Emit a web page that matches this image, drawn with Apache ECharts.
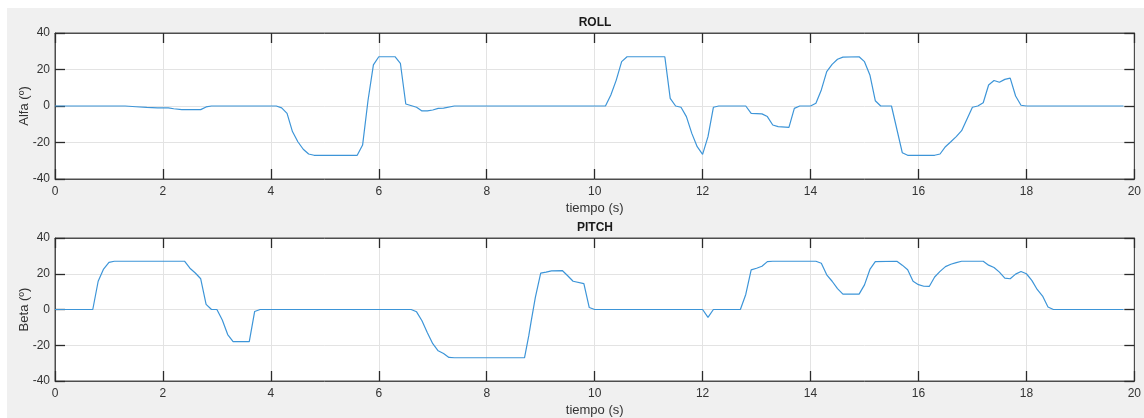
<!DOCTYPE html>
<html>
<head>
<meta charset="utf-8">
<script src="https://cdn.jsdelivr.net/npm/echarts@6/dist/echarts.min.js"></script>
<style>
html,body{margin:0;padding:0;background:#ffffff;}
#bg{position:absolute;left:7px;top:8px;width:1137px;height:410px;background:#f0f0f0;}
#chart{position:absolute;left:0;top:0;width:1144px;height:418px;}
</style>
</head>
<body>
<div id="bg"></div>
<div id="chart"></div>
<script>
// ROLL (Alfa) — time (s) and angle (º)
const rollT = [0,1.3,1.5,1.7,1.9,2.1,2.2,2.35,2.7,2.8,2.9,4.1,4.2,4.3,4.4,4.5,4.6,4.7,4.8,5.6,5.7,5.8,5.9,6.0,6.3,6.4,6.5,6.7,6.8,6.9,7.0,7.1,7.2,7.4,10.2,10.3,10.4,10.5,10.6,11.3,11.4,11.5,11.6,11.7,11.8,11.9,12.0,12.1,12.2,12.3,12.8,12.9,13.1,13.2,13.3,13.4,13.6,13.7,13.8,14.0,14.1,14.2,14.3,14.4,14.5,14.6,14.9,15.0,15.1,15.2,15.3,15.5,15.7,15.8,16.3,16.4,16.5,16.6,16.7,16.8,16.9,17.0,17.1,17.2,17.3,17.4,17.5,17.6,17.7,17.8,17.9,18.0,19.8];
const rollV = [0,0,-0.4,-0.8,-1,-1,-1.5,-2,-2,-0.5,0,0,-1,-4,-14,-19.6,-23.7,-26.3,-27,-27,-21.4,3,22.5,27,27,23.4,1.1,-0.7,-2.7,-2.7,-2.2,-1.3,-1.2,0,0,6,14.2,24.3,27,27,4.2,0,-0.7,-5.8,-15,-22.3,-26.5,-16.8,-0.7,0,0,-4,-4.3,-5.8,-10.4,-11.3,-11.7,-1.3,0,0,1.5,8.8,18.8,22.8,25.6,26.8,27,24.3,17,2.9,0,0,-25.6,-27,-27,-26.3,-22.3,-19.6,-16.8,-13.5,-7.1,-0.7,0,1.8,11.5,14,13,14.6,15.3,5.5,0.4,0,0];

// PITCH (Beta) — time (s) and angle (º)
const pitchT = [0,0.7,0.8,0.9,1.0,1.1,2.4,2.5,2.6,2.7,2.8,2.9,3.0,3.1,3.2,3.3,3.6,3.7,3.8,6.6,6.7,6.8,6.9,7.0,7.1,7.2,7.3,7.4,8.7,8.78,8.82,8.9,9.0,9.1,9.2,9.4,9.5,9.6,9.8,9.9,10.0,12.0,12.1,12.2,12.7,12.8,12.9,13.0,13.1,13.2,13.3,14.1,14.2,14.3,14.4,14.5,14.6,14.9,15.0,15.1,15.2,15.6,15.7,15.8,15.9,16.0,16.1,16.2,16.3,16.4,16.5,16.6,16.7,16.8,17.2,17.3,17.4,17.5,17.6,17.7,17.8,17.9,18.0,18.1,18.2,18.3,18.4,18.5,19.8];
const pitchV = [0,0,15.8,22.6,26.4,27,27,23.1,20.4,17.2,2.9,0,0,-5.9,-14,-18,-18,-1.1,0,0,-1.3,-6.3,-13,-19.1,-23.1,-24.6,-26.8,-27,-27,-14.5,-7.2,6.6,20.4,20.9,21.6,21.8,18.9,15.8,14.5,1.1,0,0,-4.4,0,0,8.4,22.2,23.1,24.2,26.8,27,27,25.9,19.4,15.8,11.7,8.6,8.6,13.8,22.4,26.8,27,24.8,22.2,15.8,13.9,13,12.9,18.2,21.3,24,25.3,26.2,27,27,24.8,23.5,20.9,17.6,17.2,19.8,21.3,20,16.3,11.2,7.5,1.4,0,0];

const xTicks = [0,2,4,6,8,10,12,14,16,18,20];
const yTicks = [-40,-20,0,20,40];
const titles = ['ROLL','PITCH'];
const yNames = ['Alfa (º)','Beta (º)'];
const xName = 'tiempo (s)';

const FONT = '"Liberation Sans", Arial, Helvetica, sans-serif';
const TXT = '#333333';
const AX = '#4d4d4d';
const TICK = '#2b2b2b';
const GRIDC = '#e3e3e3';
const LINE = '#3d95d8';

const grids = [
  {left:55, top:33, width:1080, height:146},
  {left:55, top:238, width:1080, height:145}
];
const titlePos = [[595, 23], [595, 228]];

function pairs(t, v){ return t.map((x,i)=>[x, v[i]]); }
function tick(){ return {show:true, inside:true, length:10, lineStyle:{color:TICK, width:1.3}}; }

const xAxis = [], yAxis = [];
grids.forEach((g, i) => {
  xAxis.push({
    type:'value', gridIndex:i, position:'bottom', z:10,
    min:xTicks[0], max:xTicks[xTicks.length-1], interval:xTicks[1]-xTicks[0],
    name:xName, nameLocation:'middle', nameGap:23,
    nameTextStyle:{color:TXT, fontFamily:FONT, fontSize:13},
    axisLine:{show:true, onZero:false, lineStyle:{color:AX}},
    axisTick:tick(),
    axisLabel:{color:TXT, fontFamily:FONT, fontSize:12, margin:7},
    splitLine:{show:true, lineStyle:{color:GRIDC, width:1}}
  });
  xAxis.push({
    type:'value', gridIndex:i, position:'top', z:10,
    min:xTicks[0], max:xTicks[xTicks.length-1], interval:xTicks[1]-xTicks[0],
    axisLine:{show:true, onZero:false, lineStyle:{color:AX}},
    axisTick:tick(),
    axisLabel:{show:false}, splitLine:{show:false}
  });
  yAxis.push({
    type:'value', gridIndex:i, position:'left', z:10,
    min:yTicks[0], max:yTicks[yTicks.length-1], interval:yTicks[1]-yTicks[0],
    name:yNames[i], nameLocation:'middle', nameGap:24, nameMoveOverlap:false,
    nameTextStyle:{color:TXT, fontFamily:FONT, fontSize:13},
    axisLine:{show:true, onZero:false, lineStyle:{color:AX}},
    axisTick:tick(),
    axisLabel:{color:TXT, fontFamily:FONT, fontSize:12, margin:5},
    splitLine:{show:true, lineStyle:{color:GRIDC, width:1}}
  });
  yAxis.push({
    type:'value', gridIndex:i, position:'right', z:10,
    min:yTicks[0], max:yTicks[yTicks.length-1], interval:yTicks[1]-yTicks[0],
    axisLine:{show:true, onZero:false, lineStyle:{color:AX}},
    axisTick:tick(),
    axisLabel:{show:false}, splitLine:{show:false}
  });
});

const chart = echarts.init(document.getElementById('chart'), null, {renderer:'canvas'});
chart.setOption({
  backgroundColor:'transparent',
  animation:false,
  grid: grids.map(g => Object.assign({show:true, backgroundColor:'#ffffff', borderColor:AX, borderWidth:1, containLabel:false}, g)),
  xAxis: xAxis,
  yAxis: yAxis,
  graphic: titles.map((t, i) => ({
    type:'text', x:titlePos[i][0], y:titlePos[i][1],
    style:{text:t, fill:'#1a1a1a', font:'bold 12px ' + FONT, align:'center', verticalAlign:'middle', textAlign:'center', textVerticalAlign:'middle'}
  })),
  series: [
    {type:'line', xAxisIndex:0, yAxisIndex:0, z:20, data:pairs(rollT, rollV), showSymbol:false, symbol:'none',
     lineStyle:{color:LINE, width:1.2}, itemStyle:{color:LINE}},
    {type:'line', xAxisIndex:2, yAxisIndex:2, z:20, data:pairs(pitchT, pitchV), showSymbol:false, symbol:'none',
     lineStyle:{color:LINE, width:1.2}, itemStyle:{color:LINE}}
  ]
});
</script>
</body>
</html>
